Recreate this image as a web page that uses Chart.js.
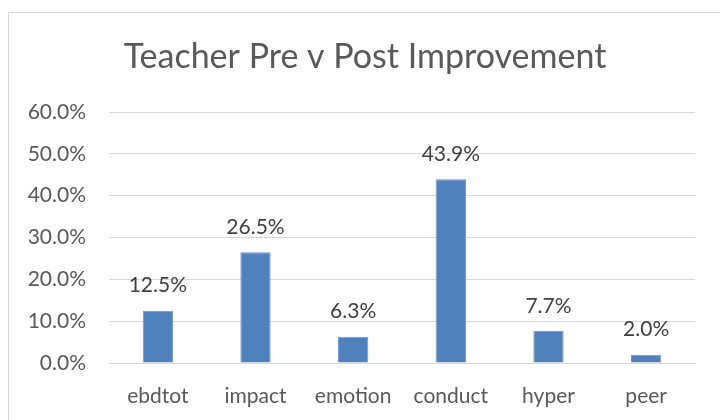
<!DOCTYPE html>
<html>
<head>
<meta charset="utf-8">
<script src="https://cdn.jsdelivr.net/npm/chart.js@4"></script>
<style>
  html, body { margin: 0; padding: 0; background: #fff; }
  #wrap { position: relative; width: 720px; height: 420px; overflow: hidden; }
  #frame { position: absolute; left: 8px; top: 12px; width: 800px; height: 500px;
           border-left: 1px solid #d9d9d9; border-top: 1px solid #d9d9d9; }
  canvas { position: absolute; left: 0; top: 0; }
</style>
</head>
<body>
<div id="wrap">
  <div id="frame"></div>
  <canvas id="chart" width="720" height="420"></canvas>
</div>
<script>
// chart data
const categories = ['ebdtot', 'impact', 'emotion', 'conduct', 'hyper', 'peer'];
const improvement = [12.5, 26.5, 6.3, 43.9, 7.7, 2.0];
const yTicks = [0, 10, 20, 30, 40, 50, 60];
const chartTitle = 'Teacher Pre v Post Improvement';

const fontFamily = "Lato, 'Open Sans', sans-serif";

// title is drawn here so it can sit off-centre like the original
const titleText = {
  id: 'titleText',
  afterDraw(chart) {
    const ctx = chart.ctx;
    ctx.save();
    ctx.fillStyle = '#595959';
    ctx.font = '34px ' + fontFamily;
    ctx.textAlign = 'center';
    ctx.textBaseline = 'middle';
    ctx.fillText(chartTitle, 365, 57);
    ctx.restore();
  }
};

// draws the value above each bar (no datalabels plugin available offline)
const valueLabels = {
  id: 'valueLabels',
  afterDatasetsDraw(chart) {
    const ctx = chart.ctx;
    const meta = chart.getDatasetMeta(0);
    ctx.save();
    ctx.fillStyle = '#404040';
    ctx.font = '21px ' + fontFamily;
    ctx.textAlign = 'center';
    ctx.textBaseline = 'middle';
    meta.data.forEach(function (bar, i) {
      ctx.fillText(improvement[i].toFixed(1) + '%', bar.x, bar.y - 25);
    });
    ctx.restore();
  }
};

document.addEventListener("DOMContentLoaded", function () {
  const ctx = document.getElementById("chart").getContext("2d");
  new Chart(ctx, {
    type: 'bar',
    data: {
      labels: categories,
      datasets: [{
        data: improvement,
        backgroundColor: '#4F81BD',
        borderColor: '#6E97CC',
        borderWidth: 1,
        barPercentage: 0.31,
        categoryPercentage: 1
      }]
    },
    options: {
      responsive: false,
      animation: false,
      layout: { padding: { left: 0, right: 25, top: 112, bottom: 0 } },
      plugins: {
        legend: { display: false },
        tooltip: { enabled: false },
        title: { display: false }
      },
      scales: {
        x: {
          grid: { display: false, drawTicks: false },
          border: { display: false },
          ticks: { color: '#595959', font: { family: fontFamily, size: 21 }, padding: 21 },
          afterFit(scale) { scale.height = 57; }
        },
        y: {
          min: 0,
          max: 60,
          afterBuildTicks(scale) { scale.ticks = yTicks.map(v => ({ value: v })); },
          grid: { color: '#d9d9d9', lineWidth: 1, drawTicks: false },
          border: { display: false },
          ticks: {
            color: '#595959',
            font: { family: fontFamily, size: 21 },
            padding: 23,
            callback: v => v.toFixed(1) + '%'
          },
          afterFit(scale) { scale.width = 109; }
        }
      }
    },
    plugins: [valueLabels, titleText]
  });
});
</script>
</body>
</html>
